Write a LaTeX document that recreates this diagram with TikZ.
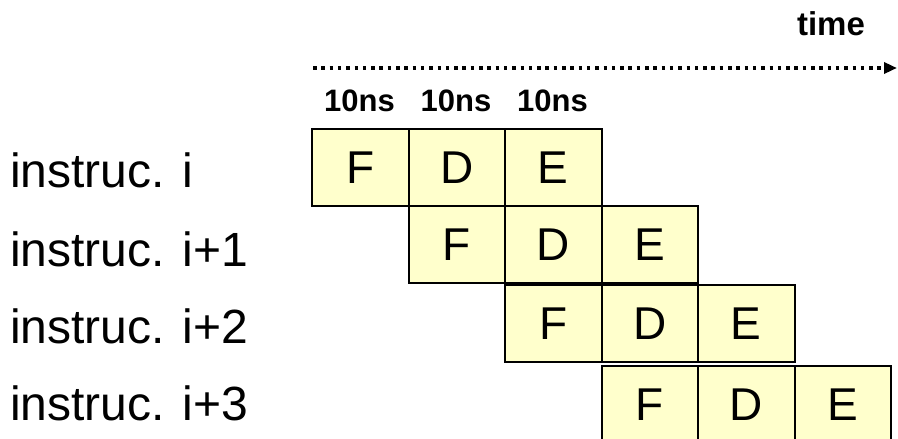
\documentclass[tikz,border=0pt]{standalone}
\usepackage{fontspec}
\setmainfont{Liberation Sans}
\usetikzlibrary{arrows.meta}
\definecolor{cellfill}{HTML}{FFFFCC}
\tikzset{
  stagebox/.style={draw=black, line width=2pt, fill=cellfill, minimum width=96.5pt,
    minimum height=77pt, inner sep=0pt, font=\fontsize{46}{46}\selectfont},
  rowlabel/.style={anchor=base west, inner sep=0pt, font=\fontsize{48}{48}\selectfont},
  ticklabel/.style={anchor=base, inner sep=0pt, font=\bfseries\fontsize{31}{31}\selectfont},
}

\begin{document}
\begin{tikzpicture}[x=1pt,y=-1pt]
  \useasboundingbox (0,0) rectangle (898,439);
  \clip (0,0) rectangle (898,439);
  % time axis
  \node[anchor=base, inner sep=0pt, font=\bfseries\fontsize{33}{33}\selectfont] (timelbl) at (831,35) {time};
  \coordinate (tstart) at (313,68);
  \coordinate (tend) at (897,68);
  \draw[line width=3.5pt, dash pattern=on 3.5pt off 4.8pt, -{Triangle[length=13pt,width=11pt]}] (tstart) -- (tend);
  \foreach \col/\x in {0/359.5,1/456,2/552.5}
    \node[ticklabel] (tick\col) at (\x,111.7) {10ns};
  % pipeline stages
  \foreach \row/\top in {0/129,1/206,2/285,3/366}
    \foreach \stage [count=\col from 0] in {F,D,E}
      \node[stagebox] (s\row\col) at ({312+96.5*(\row+\col)+48.25},{\top+38.5}) {\stage};
  \foreach \row/\base/\txt in {0/187/i,1/266.7/i+1,2/343/i+2,3/420/i+3}
    \node[rowlabel] (lab\row) at (10,\base) {instruc. \txt};
\end{tikzpicture}
\end{document}
